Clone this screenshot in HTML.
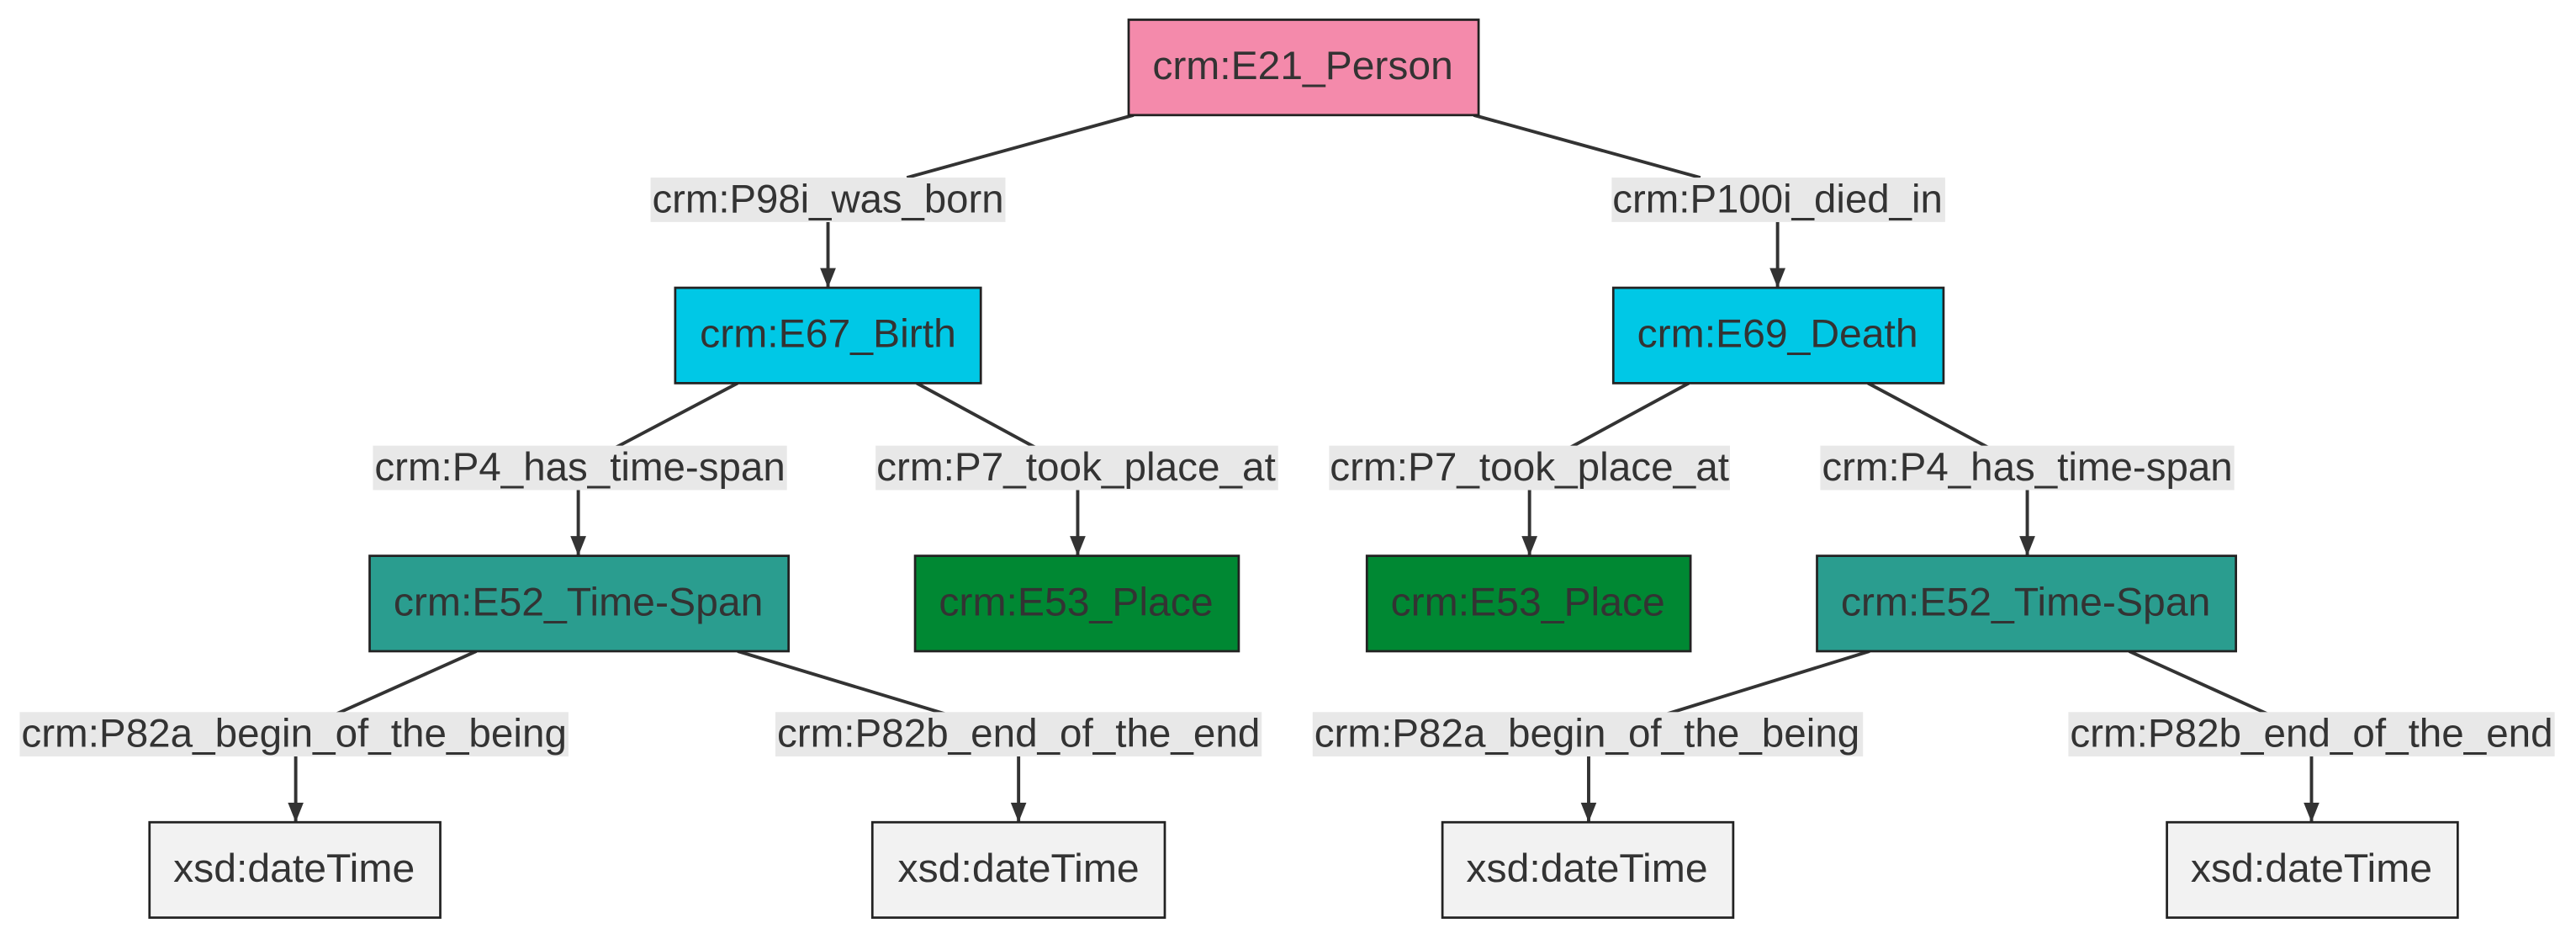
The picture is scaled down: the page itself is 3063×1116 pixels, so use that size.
<!DOCTYPE html>
<html><head><meta charset="utf-8"><style>
html,body{margin:0;padding:0;background:#fff}
svg{display:block}
text{font-family:"Liberation Sans",sans-serif;font-size:24px;fill:#333;text-anchor:middle;dominant-baseline:central}
.n{stroke:#222;stroke-width:1.4}
.e{stroke:#333;stroke-width:2;fill:none}
.l{fill:#e8e8e8}
</style></head><body>
<svg width="3063" height="1116" viewBox="0 0 1568 571" preserveAspectRatio="none" xmlns="http://www.w3.org/2000/svg">
<defs><marker id="a" viewBox="0 0 10 10" refX="10" refY="5" markerWidth="12" markerHeight="12" orient="auto" markerUnits="userSpaceOnUse"><path d="M0,1L10,5L0,9z" fill="#333"/></marker></defs>
<g class="e">
<path d="M690,70L552,108"/><path d="M504,135L504,175" marker-end="url(#a)"/>
<path d="M897,70L1035,108"/><path d="M1082,135L1082,175" marker-end="url(#a)"/>
<path d="M449,233L375,272"/><path d="M352,298L352,338" marker-end="url(#a)"/>
<path d="M558,233L630,272"/><path d="M656,298L656,338" marker-end="url(#a)"/>
<path d="M1028,233L956,272"/><path d="M931,298L931,338" marker-end="url(#a)"/>
<path d="M1137,233L1210,272"/><path d="M1234,298L1234,338" marker-end="url(#a)"/>
<path d="M290,396L205,434"/><path d="M180,460L180,500" marker-end="url(#a)"/>
<path d="M449,396L575,434"/><path d="M620,460L620,500" marker-end="url(#a)"/>
<path d="M1138,396L1015,434"/><path d="M967,460L967,500" marker-end="url(#a)"/>
<path d="M1296,396L1380,434"/><path d="M1407,460L1407,500" marker-end="url(#a)"/>
</g>
<g lengthAdjust="spacingAndGlyphs">
<rect class="l" x="396" y="108" width="216" height="27"/><text lengthAdjust="spacingAndGlyphs" x="504" y="121" textLength="214">crm:P98i_was_born</text>
<rect class="l" x="981" y="108" width="203" height="27"/><text lengthAdjust="spacingAndGlyphs" x="1082" y="121" textLength="201">crm:P100i_died_in</text>
<rect class="l" x="227" y="271" width="252" height="27"/><text lengthAdjust="spacingAndGlyphs" x="353" y="284" textLength="250">crm:P4_has_time-span</text>
<rect class="l" x="533" y="271" width="245" height="27"/><text lengthAdjust="spacingAndGlyphs" x="655" y="284" textLength="243">crm:P7_took_place_at</text>
<rect class="l" x="809" y="271" width="244" height="27"/><text lengthAdjust="spacingAndGlyphs" x="931" y="284" textLength="243">crm:P7_took_place_at</text>
<rect class="l" x="1108" y="271" width="252" height="27"/><text lengthAdjust="spacingAndGlyphs" x="1234" y="284" textLength="250">crm:P4_has_time-span</text>
<rect class="l" x="12" y="433" width="334" height="27"/><text lengthAdjust="spacingAndGlyphs" x="179" y="446" textLength="332">crm:P82a_begin_of_the_being</text>
<rect class="l" x="472" y="433" width="296" height="27"/><text lengthAdjust="spacingAndGlyphs" x="620" y="446" textLength="294">crm:P82b_end_of_the_end</text>
<rect class="l" x="799" y="433" width="335" height="27"/><text lengthAdjust="spacingAndGlyphs" x="966" y="446" textLength="332">crm:P82a_begin_of_the_being</text>
<rect class="l" x="1259" y="433" width="296" height="27"/><text lengthAdjust="spacingAndGlyphs" x="1407" y="446" textLength="294">crm:P82b_end_of_the_end</text>
</g>
<rect class="n" x="687" y="12" width="213" height="58" fill="#f48aab"/><text lengthAdjust="spacingAndGlyphs" x="793" y="40" textLength="183">crm:E21_Person</text>
<rect class="n" x="411" y="175" width="186" height="58" fill="#00c8e6"/><text lengthAdjust="spacingAndGlyphs" x="504" y="203" textLength="156">crm:E67_Birth</text>
<rect class="n" x="982" y="175" width="201" height="58" fill="#00c8e6"/><text lengthAdjust="spacingAndGlyphs" x="1082" y="203" textLength="171">crm:E69_Death</text>
<rect class="n" x="225" y="338" width="255" height="58" fill="#2a9d8f"/><text lengthAdjust="spacingAndGlyphs" x="352" y="366" textLength="225">crm:E52_Time-Span</text>
<rect class="n" x="557" y="338" width="197" height="58" fill="#008833"/><text lengthAdjust="spacingAndGlyphs" x="655" y="366" textLength="167">crm:E53_Place</text>
<rect class="n" x="832" y="338" width="197" height="58" fill="#008833"/><text lengthAdjust="spacingAndGlyphs" x="930" y="366" textLength="167">crm:E53_Place</text>
<rect class="n" x="1106" y="338" width="255" height="58" fill="#2a9d8f"/><text lengthAdjust="spacingAndGlyphs" x="1233" y="366" textLength="225">crm:E52_Time-Span</text>
<rect class="n" x="91" y="500" width="177" height="58" fill="#f2f2f2"/><text lengthAdjust="spacingAndGlyphs" x="179" y="528" textLength="147">xsd:dateTime</text>
<rect class="n" x="531" y="500" width="178" height="58" fill="#f2f2f2"/><text lengthAdjust="spacingAndGlyphs" x="620" y="528" textLength="147">xsd:dateTime</text>
<rect class="n" x="878" y="500" width="177" height="58" fill="#f2f2f2"/><text lengthAdjust="spacingAndGlyphs" x="966" y="528" textLength="147">xsd:dateTime</text>
<rect class="n" x="1319" y="500" width="177" height="58" fill="#f2f2f2"/><text lengthAdjust="spacingAndGlyphs" x="1407" y="528" textLength="147">xsd:dateTime</text>
</svg>
</body></html>
